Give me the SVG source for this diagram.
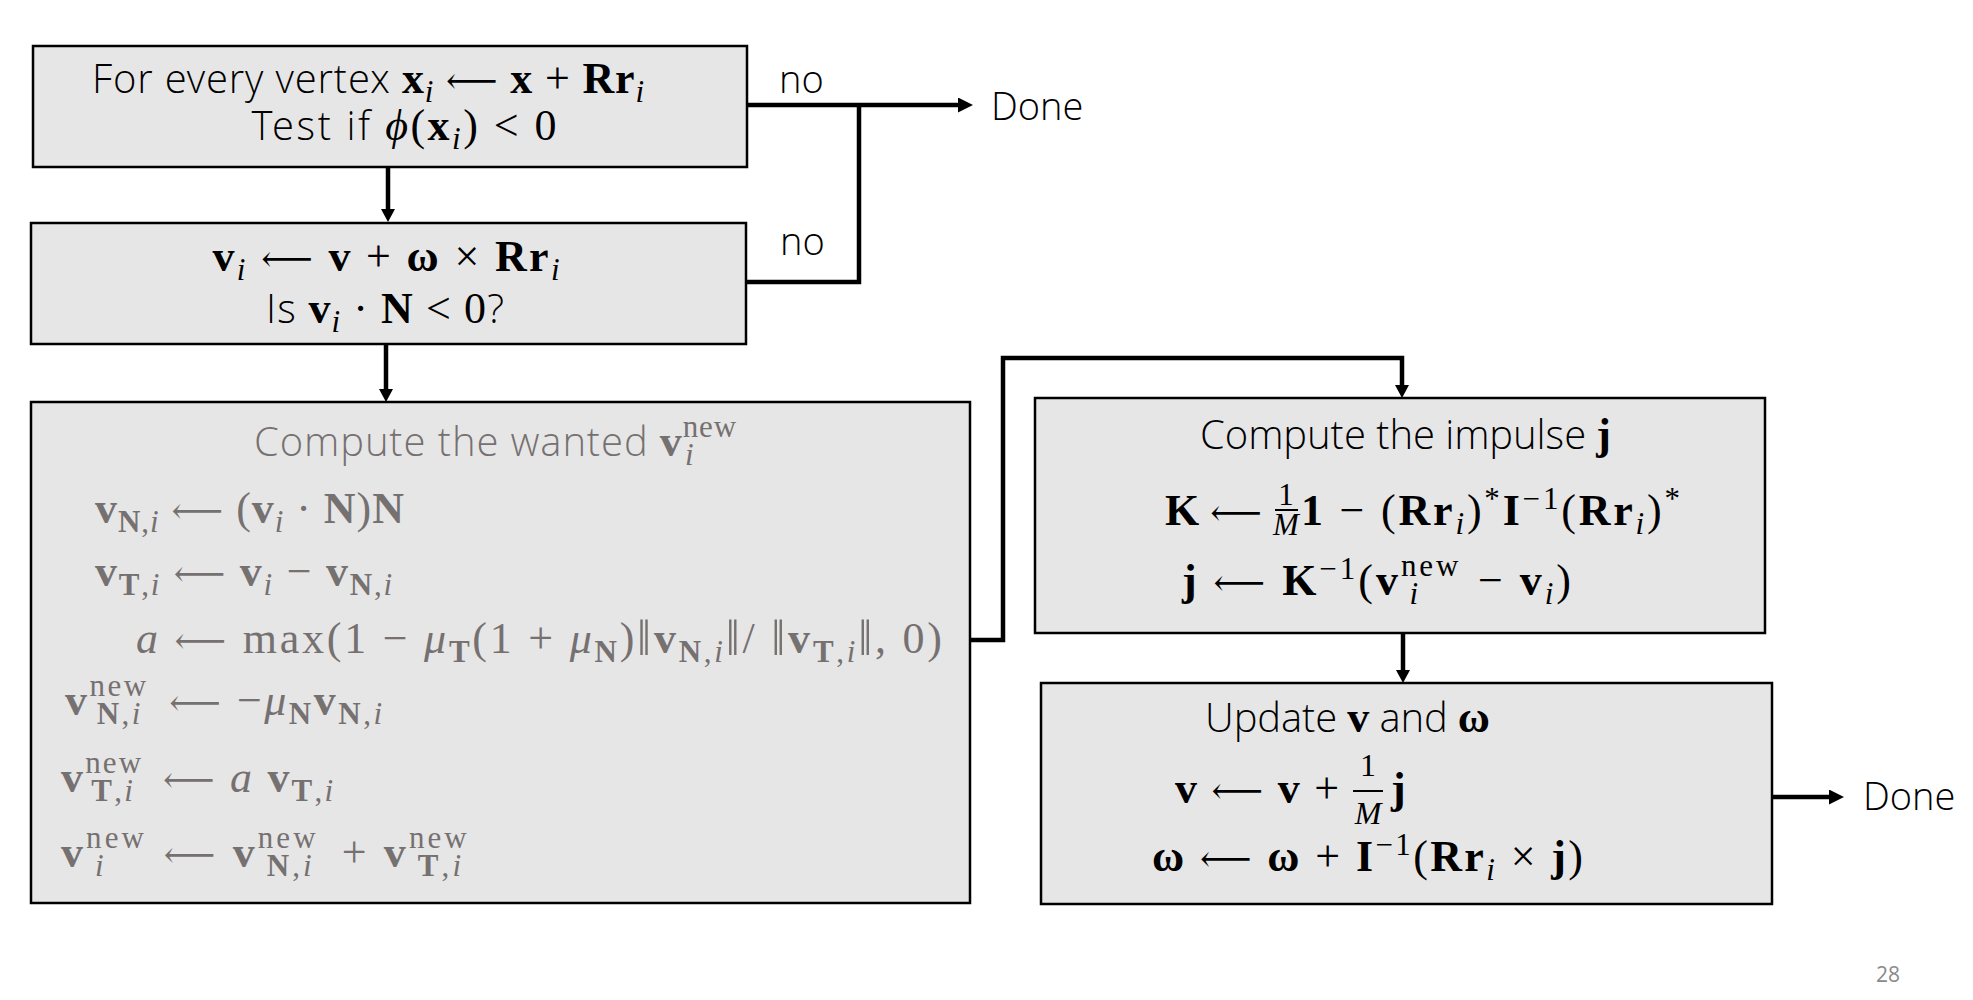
<svg xmlns="http://www.w3.org/2000/svg" width="1973" height="1000" viewBox="0 0 1973 1000">
<defs>
<style>
.box{fill:#e7e6e6;stroke:#000;stroke-width:2.5}
.t{font-family:"Open Sans Light","Open Sans","Noto Sans",sans-serif;font-weight:300;font-size:40px}
.lb{font-family:"Open Sans Light","Open Sans","Noto Sans",sans-serif;font-weight:300;font-size:38px;fill:#000}
.m{font-family:"Liberation Serif","DejaVu Serif",serif;font-size:44px}
.b{font-weight:bold}
.it{font-style:italic}
.s{font-size:31px}
.fs{font-size:32px}
.ar{font-size:36px}
.nb{font-size:50px}
.g{fill:#767171}
.conn{fill:none;stroke:#000;stroke-width:4.5}
.frac{stroke:#000;stroke-width:2}
</style>
<marker id="ah" viewBox="0 0 10 10" refX="0" refY="5" markerWidth="15" markerHeight="15" markerUnits="userSpaceOnUse" orient="auto"><path d="M0,0 L10,5 L0,10 z" fill="#000"/></marker>
<marker id="ahs" viewBox="0 0 10 10" refX="0" refY="5" markerWidth="13" markerHeight="14" markerUnits="userSpaceOnUse" orient="auto" preserveAspectRatio="none"><path d="M0,0 L10,5 L0,10 z" fill="#000"/></marker>
</defs>
<rect width="1973" height="1000" fill="#fff"/>

<g id="connectors">
<path class="conn" d="M748,105 H958" marker-end="url(#ah)"/>
<path class="conn" d="M746,282 H859 V105"/>
<path class="conn" d="M388,168 V209" marker-end="url(#ahs)"/>
<path class="conn" d="M386,345 V389" marker-end="url(#ahs)"/>
<path class="conn" d="M971,640 H1003 V358 H1402 V385" marker-end="url(#ahs)"/>
<path class="conn" d="M1403,633 V670" marker-end="url(#ahs)"/>
<path class="conn" d="M1772,797 H1829" marker-end="url(#ah)"/>
<text class="lb" x="779" y="93">no</text>
<text class="lb" x="780" y="255">no</text>
<text class="lb" x="991" y="120">Done</text>
<text class="lb" x="1863" y="810">Done</text>
</g>

<g id="node1">
<rect class="box" x="33" y="46" width="714" height="121"/>
<text x="368" y="93" text-anchor="middle" textLength="552" lengthAdjust="spacing"><tspan class="t">For every vertex </tspan><tspan class="m b">x</tspan><tspan class="m it s" dy="9">i</tspan><tspan class="m" dy="-9"> </tspan><tspan class="m ar">⟵</tspan><tspan class="m"> </tspan><tspan class="m b">x</tspan><tspan class="m"> + </tspan><tspan class="m b">Rr</tspan><tspan class="m it s" dy="9">i</tspan></text>
<text x="404" y="140" text-anchor="middle" textLength="305" lengthAdjust="spacing"><tspan class="t">Test if </tspan><tspan class="m it">ϕ</tspan><tspan class="m">(</tspan><tspan class="m b">x</tspan><tspan class="m it s" dy="9">i</tspan><tspan class="m" dy="-9">) &lt; 0</tspan></text>
</g>

<g id="node2">
<rect class="box" x="31" y="223" width="715" height="121"/>
<text class="m" x="386" y="271" text-anchor="middle" textLength="347" lengthAdjust="spacing"><tspan class="b">v</tspan><tspan class="it s" dy="9">i</tspan><tspan dy="-9"> </tspan><tspan class="ar">⟵</tspan> <tspan class="b">v</tspan> + <tspan class="b">ω</tspan> × <tspan class="b">Rr</tspan><tspan class="it s" dy="9">i</tspan></text>
<text x="385" y="323" text-anchor="middle" textLength="238" lengthAdjust="spacing"><tspan class="t">Is </tspan><tspan class="m b">v</tspan><tspan class="m it s" dy="9">i</tspan><tspan class="m" dy="-9"> · </tspan><tspan class="m b">N</tspan><tspan class="m"> &lt; 0</tspan><tspan class="t">?</tspan></text>
</g>

<g id="node3">
<rect class="box" x="31" y="402" width="939" height="501"/>
<text class="g" x="254" y="456" textLength="483" lengthAdjust="spacing"><tspan class="t">Compute the wanted </tspan><tspan class="m b">v</tspan><tspan class="m s" dy="-19">new</tspan><tspan class="m s it" dx="-52" dy="28">i</tspan></text>
<text class="m g" x="95" y="523" textLength="309" lengthAdjust="spacing"><tspan class="b">v</tspan><tspan class="s" dy="9"><tspan class="b">N</tspan>,<tspan class="it">i</tspan></tspan><tspan dy="-9"> </tspan><tspan class="ar">⟵</tspan> (<tspan class="b">v</tspan><tspan class="it s" dy="9">i</tspan><tspan dy="-9"> · </tspan><tspan class="b">N</tspan>)<tspan class="b">N</tspan></text>
<text class="m g" x="95" y="586" textLength="297" lengthAdjust="spacing"><tspan class="b">v</tspan><tspan class="s" dy="9"><tspan class="b">T</tspan>,<tspan class="it">i</tspan></tspan><tspan dy="-9"> </tspan><tspan class="ar">⟵</tspan> <tspan class="b">v</tspan><tspan class="it s" dy="9">i</tspan><tspan dy="-9"> − </tspan><tspan class="b">v</tspan><tspan class="s" dy="9"><tspan class="b">N</tspan>,<tspan class="it">i</tspan></tspan></text>
<text class="m g" x="136" y="653" textLength="806" lengthAdjust="spacing"><tspan class="it">a</tspan> <tspan class="ar">⟵</tspan> max(1 − <tspan class="it">μ</tspan><tspan class="s b" dy="9">T</tspan><tspan dy="-9">(1 + </tspan><tspan class="it">μ</tspan><tspan class="s b" dy="9">N</tspan><tspan dy="-9">)</tspan><tspan class="nb" dy="2">‖</tspan><tspan class="b" dy="-2">v</tspan><tspan class="s" dy="9"><tspan class="b">N</tspan>,<tspan class="it">i</tspan></tspan><tspan class="nb" dy="-7">‖</tspan><tspan dy="-2">/ </tspan><tspan class="nb" dy="2">‖</tspan><tspan class="b" dy="-2">v</tspan><tspan class="s" dy="9"><tspan class="b">T</tspan>,<tspan class="it">i</tspan></tspan><tspan class="nb" dy="-7">‖</tspan><tspan dy="-2">, 0)</tspan></text>
<text class="m g" x="65" y="715" textLength="317" lengthAdjust="spacing"><tspan class="b">v</tspan><tspan class="s" dy="-19">new</tspan><tspan class="s" dx="-52" dy="28"><tspan class="b">N</tspan>,<tspan class="it">i</tspan></tspan><tspan dx="13" dy="-9"> </tspan><tspan class="ar">⟵</tspan> −<tspan class="it">μ</tspan><tspan class="s b" dy="9">N</tspan><tspan class="b" dy="-9">v</tspan><tspan class="s" dy="9"><tspan class="b">N</tspan>,<tspan class="it">i</tspan></tspan></text>
<text class="m g" x="61" y="792" textLength="272" lengthAdjust="spacing"><tspan class="b">v</tspan><tspan class="s" dy="-19">new</tspan><tspan class="s" dx="-52" dy="28"><tspan class="b">T</tspan>,<tspan class="it">i</tspan></tspan><tspan dx="15" dy="-9"> </tspan><tspan class="ar">⟵</tspan> <tspan class="it">a</tspan> <tspan class="b">v</tspan><tspan class="s" dy="9"><tspan class="b">T</tspan>,<tspan class="it">i</tspan></tspan></text>
<text class="m g" x="61" y="867" textLength="415" lengthAdjust="spacing"><tspan class="b">v</tspan><tspan class="s" dy="-19">new</tspan><tspan class="s it" dx="-52" dy="28">i</tspan><tspan dx="43" dy="-9"> </tspan><tspan class="ar">⟵</tspan> <tspan class="b">v</tspan><tspan class="s" dy="-19">new</tspan><tspan class="s" dx="-52" dy="28"><tspan class="b">N</tspan>,<tspan class="it">i</tspan></tspan><tspan dx="13" dy="-9"> + </tspan><tspan class="b">v</tspan><tspan class="s" dy="-19">new</tspan><tspan class="s" dx="-52" dy="28"><tspan class="b">T</tspan>,<tspan class="it">i</tspan></tspan></text>
</g>

<g id="node4">
<rect class="box" x="1035" y="398" width="730" height="235"/>
<text x="1200" y="449" textLength="411" lengthAdjust="spacing"><tspan class="t">Compute the impulse </tspan><tspan class="m b">j</tspan></text>
<text class="m" x="1165" y="525"><tspan class="b">K</tspan> <tspan class="ar">⟵</tspan></text>
<text class="m s" x="1286" y="505" text-anchor="middle">1</text>
<line class="frac" x1="1275" y1="510" x2="1298" y2="510"/>
<text class="m s it" x="1286" y="535" text-anchor="middle">M</text>
<text class="m" x="1301" y="525" textLength="379" lengthAdjust="spacing"><tspan class="b">1</tspan> − (<tspan class="b">Rr</tspan><tspan class="s it" dy="9">i</tspan><tspan dy="-9">)</tspan><tspan class="s" dy="-16">*</tspan><tspan class="b" dy="16">I</tspan><tspan class="s" dy="-16">−1</tspan><tspan dy="16">(</tspan><tspan class="b">Rr</tspan><tspan class="s it" dy="9">i</tspan><tspan dy="-9">)</tspan><tspan class="s" dy="-16">*</tspan></text>
<text class="m" x="1182" y="595" textLength="389" lengthAdjust="spacing"><tspan class="b">j</tspan> <tspan class="ar">⟵</tspan> <tspan class="b">K</tspan><tspan class="s" dy="-16">−1</tspan><tspan dy="16">(</tspan><tspan class="b">v</tspan><tspan class="s" dy="-19">new</tspan><tspan class="s it" dx="-52" dy="28">i</tspan><tspan dx="43" dy="-9"> − </tspan><tspan class="b">v</tspan><tspan class="s it" dy="9">i</tspan><tspan dy="-9">)</tspan></text>
</g>

<g id="node5">
<rect class="box" x="1041" y="683" width="731" height="221"/>
<text x="1205" y="732" textLength="285" lengthAdjust="spacing"><tspan class="t">Update </tspan><tspan class="m b">v</tspan><tspan class="t"> and </tspan><tspan class="m b">ω</tspan></text>
<text class="m" x="1175" y="803" textLength="164" lengthAdjust="spacing"><tspan class="b">v</tspan> <tspan class="ar">⟵</tspan> <tspan class="b">v</tspan> +</text>
<text class="m fs" x="1368" y="776" text-anchor="middle">1</text>
<line class="frac" x1="1353" y1="791" x2="1383" y2="791"/>
<text class="m fs it" x="1368" y="824" text-anchor="middle">M</text>
<text class="m b" x="1391" y="803">j</text>
<text class="m" x="1152" y="871" textLength="431" lengthAdjust="spacing"><tspan class="b">ω</tspan> <tspan class="ar">⟵</tspan> <tspan class="b">ω</tspan> + <tspan class="b">I</tspan><tspan class="s" dy="-16">−1</tspan><tspan dy="16">(</tspan><tspan class="b">Rr</tspan><tspan class="s it" dy="9">i</tspan><tspan dy="-9"> × </tspan><tspan class="b">j</tspan>)</text>
</g>

<text x="1876" y="982" font-family="Open Sans, sans-serif" font-size="21" fill="#8a8a8a">28</text>
</svg>
